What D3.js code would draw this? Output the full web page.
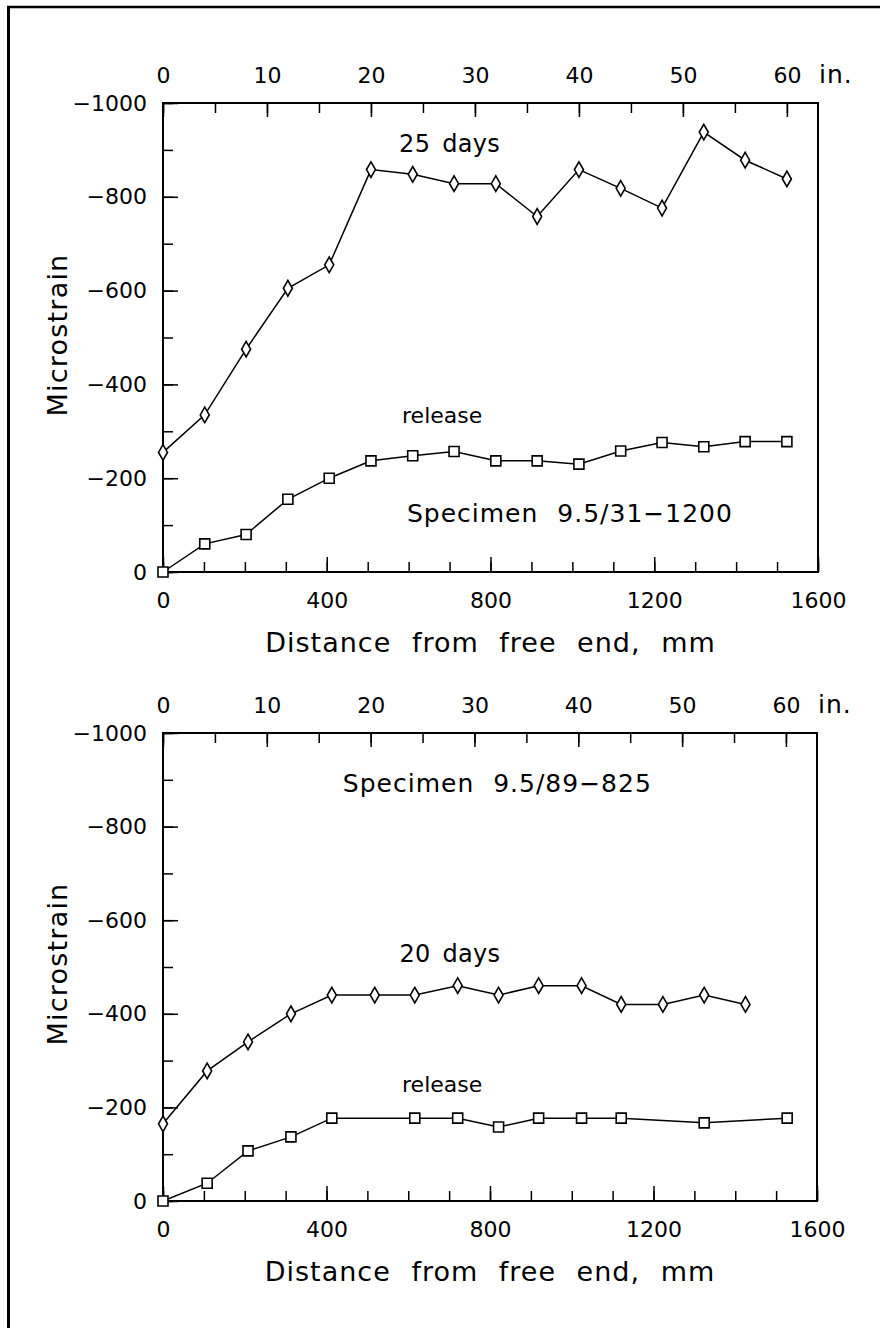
<!DOCTYPE html>
<html>
<head>
<meta charset="utf-8">
<script src="https://cdn.jsdelivr.net/npm/d3@7/dist/d3.min.js"></script>
<style>
  body { margin: 0; background: #fff; }
  text { font-family: "DejaVu Sans", sans-serif; fill: #000; }
</style>
</head>
<body>
<svg id="fig" width="880" height="1328"></svg>
<script>

// ---- data (distance from free end in mm, strain in microstrain) ----
var top_pos      = [0, 102, 203, 305, 406, 508, 610, 711, 813, 914, 1016, 1118, 1219, 1321, 1422, 1524];
var top_25days   = [-255, -335, -475, -605, -655, -858, -848, -828, -828, -758, -858, -818, -776, -938, -878, -838];
var top_release  = [0, -60, -80, -155, -200, -237, -248, -257, -237, -237, -230, -258, -276, -267, -278, -278];

var bot_pos_20   = [0, 108, 208, 313, 413, 518, 616, 721, 821, 919, 1024, 1121, 1223, 1324, 1425];
var bot_20days   = [-165, -278, -340, -400, -440, -440, -440, -460, -440, -460, -460, -420, -420, -440, -420];
var bot_pos_rel  = [0, 108, 208, 313, 413, 616, 721, 821, 919, 1024, 1121, 1324, 1527];
var bot_release  = [0, -38, -107, -137, -177, -177, -177, -158, -177, -177, -177, -167, -177];

var mm_ticks     = [0, 400, 800, 1200, 1600];
var inch_ticks   = [0, 10, 20, 30, 40, 50, 60];
var strain_ticks = [0, -200, -400, -600, -800, -1000];

var svg = d3.select("#fig");

// outer frame (only top and left edges show in the scan)
svg.append("line").attr("x1", 7).attr("x2", 880).attr("y1", 7).attr("y2", 7)
  .attr("stroke", "#000").attr("stroke-width", 2.5);
svg.append("line").attr("x1", 8.5).attr("x2", 8.5).attr("y1", 6).attr("y2", 1328)
  .attr("stroke", "#000").attr("stroke-width", 3);

function zip(a, b) { return a.map(function(v, i) { return [v, b[i]]; }); }

function drawPanel(p) {
  var x = d3.scaleLinear().domain([0, 1600]).range([p.left, p.right]);
  var xin = d3.scaleLinear().domain([0, 1600 / 25.4]).range([p.left, p.right]);
  var y = d3.scaleLinear().domain([0, -1000]).range([p.bottom, p.top]);
  var fmt = d3.format("d");

  var g = svg.append("g");

  function styleAxis(sel) {
    sel.attr("font-size", 22);
    sel.select(".domain").remove();
    sel.selectAll(".tick line").attr("stroke-width", 1.5);
  }

  // bottom mm axis
  g.append("g").attr("transform", "translate(0," + p.bottom + ")")
    .call(d3.axisBottom(x).tickValues(d3.range(0, 1601, 100)).tickSize(-10).tickFormat(""))
    .call(styleAxis);
  g.append("g").attr("transform", "translate(0," + p.bottom + ")")
    .call(d3.axisBottom(x).tickValues(mm_ticks).tickSize(-15).tickPadding(20).tickFormat(fmt))
    .call(styleAxis);

  // top inch axis
  g.append("g").attr("transform", "translate(0," + p.top + ")")
    .call(d3.axisTop(xin).tickValues(d3.range(0, 61, 5)).tickSize(-10).tickFormat(""))
    .call(styleAxis);
  g.append("g").attr("transform", "translate(0," + p.top + ")")
    .call(d3.axisTop(xin).tickValues(inch_ticks).tickSize(-14).tickPadding(20).tickFormat(fmt))
    .call(styleAxis);
  g.append("text").text("in.")
    .attr("x", x(1600) + 1).attr("y", p.top - 20)
    .attr("font-size", 25).attr("letter-spacing", 1);

  // left strain axis
  g.append("g").attr("transform", "translate(" + p.left + ",0)")
    .call(d3.axisLeft(y).tickValues(d3.range(0, -1001, -100)).tickSize(-10).tickFormat(""))
    .call(styleAxis);
  g.append("g").attr("transform", "translate(" + p.left + ",0)")
    .call(d3.axisLeft(y).tickValues(strain_ticks).tickSize(-15).tickPadding(16).tickFormat(fmt))
    .call(styleAxis);

  // plot box
  g.append("rect")
    .attr("x", p.left).attr("y", p.top)
    .attr("width", p.right - p.left).attr("height", p.bottom - p.top)
    .attr("fill", "none").attr("stroke", "#000").attr("stroke-width", 2);

  // axis titles
  g.append("text").text("Distance from free end, mm")
    .attr("x", (p.left + p.right) / 2).attr("y", p.bottom + 80)
    .attr("text-anchor", "middle").attr("font-size", 27)
    .attr("letter-spacing", 1).attr("word-spacing", 11);
  g.append("text").text("Microstrain")
    .attr("transform", "translate(67," + p.ymid + ") rotate(-90)")
    .attr("text-anchor", "middle").attr("font-size", 27)
    .attr("letter-spacing", 1.2);

  var line = d3.line()
    .x(function(d) { return x(d[0]); })
    .y(function(d) { return y(d[1]); });

  p.series.forEach(function(s) {
    var pts = zip(s.pos, s.vals);
    g.append("path").datum(pts)
      .attr("d", line)
      .attr("fill", "none").attr("stroke", "#000").attr("stroke-width", 1.5);
    var sym = d3.symbol().type(s.shape === "diamond" ? d3.symbolDiamond : d3.symbolSquare)
      .size(s.shape === "diamond" ? 70 : 100);
    g.selectAll(null).data(pts).enter().append("path")
      .attr("d", sym)
      .attr("transform", function(d) { return "translate(" + x(d[0]) + "," + y(d[1]) + ")"; })
      .attr("fill", "#fff").attr("stroke", "#000").attr("stroke-width", 1.6);
  });

  p.labels.forEach(function(l) {
    g.append("text").text(l.text)
      .attr("x", x(l.x)).attr("y", y(l.y))
      .attr("text-anchor", "middle").attr("font-size", l.size)
      .attr("letter-spacing", l.ls).attr("word-spacing", l.ws);
  });
}

drawPanel({
  left: 163, right: 818, top: 103, bottom: 572, ymid: 335,
  series: [
    { pos: top_pos, vals: top_25days, shape: "diamond" },
    { pos: top_pos, vals: top_release, shape: "square" }
  ],
  labels: [
    { text: "25 days", x: 700, y: -895, size: 24, ls: 0.3, ws: 4 },
    { text: "release", x: 682, y: -318, size: 22, ls: 0, ws: 0 },
    { text: "Specimen 9.5/31\u22121200", x: 994, y: -107, size: 25, ls: 1, ws: 10 }
  ]
});

drawPanel({
  left: 163, right: 817, top: 733, bottom: 1201, ymid: 964,
  series: [
    { pos: bot_pos_20, vals: bot_20days, shape: "diamond" },
    { pos: bot_pos_rel, vals: bot_release, shape: "square" }
  ],
  labels: [
    { text: "Specimen 9.5/89\u2212825", x: 818, y: -875, size: 25, ls: 1, ws: 10 },
    { text: "20 days", x: 702, y: -511, size: 24, ls: 0.3, ws: 4 },
    { text: "release", x: 683, y: -233, size: 22, ls: 0, ws: 0 }
  ]
});

</script>
</body>
</html>
